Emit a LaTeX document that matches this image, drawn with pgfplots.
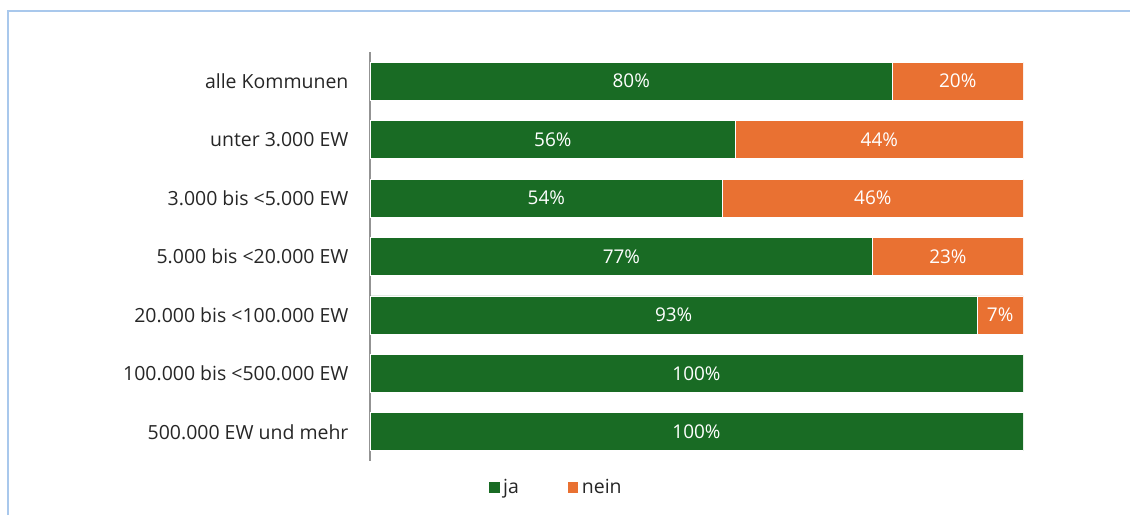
\documentclass[border=0pt]{standalone}
\usepackage{pgfplots}
\pgfplotsset{compat=1.18}
\usepackage{fontspec}
\setmainfont{Open Sans}
\definecolor{jagreen}{HTML}{196B24}
\definecolor{neinorange}{HTML}{E97132}
\definecolor{framecol}{HTML}{A9C8EC}
\definecolor{labelgray}{HTML}{262626}
\begin{document}
\begin{tikzpicture}[x=0.75pt,y=0.75pt]
\path[use as bounding box] (0,0) rectangle (1130,515);
\draw[framecol, line width=1.2pt] (8,0) -- (8,504) -- (1130,504);
\pgfplotsset{myframe/.style={
  at={(277.5pt,40.5pt)}, anchor=south west,
  scale only axis,
  width=489.75pt, height=306.75pt,
  xmin=0, xmax=100,
  ymin=-0.5, ymax=6.5,
  y dir=reverse}}
\begin{axis}[
  myframe,
  xbar stacked,
  bar width=28.5pt,
  axis x line=none,
  axis y line*=left,
  y axis line style={draw=gray!85, line width=1pt, -},
  ytick={0,1,2,3,4,5,6},
  yticklabels={alle Kommunen,unter 3.000 EW,3.000 bis <5.000 EW,5.000 bis <20.000 EW,20.000 bis <100.000 EW,100.000 bis <500.000 EW,500.000 EW und mehr},
  ytick style={draw=none},
  yticklabel style={font=\fontsize{14.6}{16}\selectfont, text=labelgray, inner xsep=0pt, xshift=-16pt},
  legend columns=2,
  legend style={at={(0.1807,-0.064)}, anchor=west, inner sep=0pt, draw=none, font=\fontsize{14.6}{16}\selectfont, text=labelgray, /tikz/every even column/.append style={column sep=34pt}},
  legend image code/.code={\fill[#1] (0pt,-4.3pt) rectangle (8.6pt,4.3pt);},
]
\addplot[fill=jagreen, draw=white, line width=0.6pt] coordinates {(80,0) (56,1) (54,2) (77,3) (93,4) (100,5) (100,6)};
\addplot[fill=neinorange, draw=white, line width=0.6pt] coordinates {(20,0) (44,1) (46,2) (23,3) (7,4) (0,5) (0,6)};
\legend{ja,nein}
\end{axis}
\begin{axis}[
  myframe,
  hide axis,
  point meta=explicit symbolic,
  nodes near coords,
  every node near coord/.append style={font=\fontsize{14.2}{16}\selectfont, text=white, anchor=center},
]
\addplot[draw=none, mark=none] coordinates {(40,0) [80\%] (28,1) [56\%] (27,2) [54\%] (38.5,3) [77\%] (46.5,4) [93\%] (50,5) [100\%] (50,6) [100\%]};
\addplot[draw=none, mark=none] coordinates {(90,0) [20\%] (78,1) [44\%] (77,2) [46\%] (88.5,3) [23\%] (96.5,4) [7\%]};
\end{axis}
\end{tikzpicture}
\end{document}
